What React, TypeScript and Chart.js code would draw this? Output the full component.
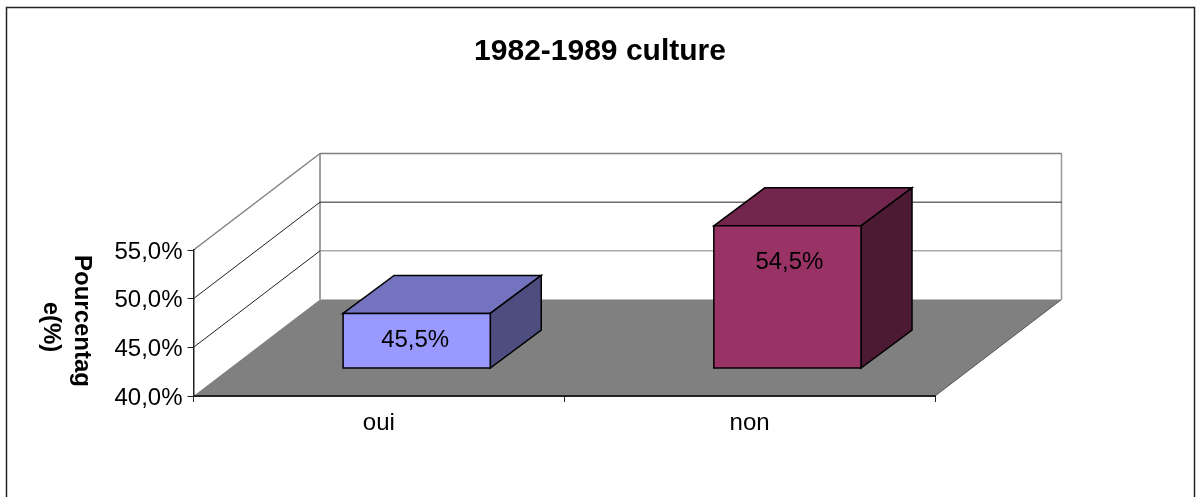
import React, { useEffect, useRef } from "react";
import { Chart, registerables } from "chart.js";

Chart.register(...registerables);

const categories = ["oui", "non"];
const values = [45.5, 54.5];
const valueLabels = ["45,5%", "54,5%"];
const faceColors = ["#9999FF", "#993366"];
const topColors = ["#7373BF", "#73264D"];
const sideColors = ["#4D4D80", "#4D1A33"];
const yTicks = [40, 45, 50, 55];
const titleLines = ["Pourcentag", "e(%)"];
const chartTitle = "1982-1989 culture";

const FONT = "'Liberation Sans', Arial, sans-serif";
const DEPTH = { x: 126.5, y: 96.5 };
const BAR = { fx: 37.8, fy: 28, lift: 1, dx: 51, dy: 38, widthRatio: 0.397 };
const LABEL_OFF = [{ x: -1.5, y: 26.5 }, { x: 2, y: 37 }];
const AXIS_TITLE_SHIFT = [0, 6];
const GRID_COLORS = ["#808080", "#808080", "#222222", "#808080"];
const DIAG_COLORS = ["#222222", "#222222", "#222222", "#808080"];

function poly(ctx: CanvasRenderingContext2D, pts: number[][], fill?: string, stroke?: string, lw = 1) {
  ctx.beginPath();
  pts.forEach((p, i) => (i ? ctx.lineTo(p[0], p[1]) : ctx.moveTo(p[0], p[1])));
  ctx.closePath();
  if (fill) { ctx.fillStyle = fill; ctx.fill(); }
  if (stroke) { ctx.strokeStyle = stroke; ctx.lineWidth = lw; ctx.lineJoin = "miter"; ctx.stroke(); }
}
function line(ctx: CanvasRenderingContext2D, a: number[], b: number[], color: string, lw = 1) {
  ctx.beginPath();
  ctx.moveTo(a[0], a[1]);
  ctx.lineTo(b[0], b[1]);
  ctx.strokeStyle = color;
  ctx.lineWidth = lw;
  ctx.stroke();
}

const scene3d = {
  id: "scene3d",
  beforeDraw(chart: any) {
    const { ctx, scales } = chart;
    const xs = scales.x, ys = scales.y;
    const l = xs.left, r = xs.right, b = ys.getPixelForValue(yTicks[0]), t = ys.getPixelForValue(yTicks[yTicks.length - 1]);
    ctx.save();
    ctx.fillStyle = "#fff";
    ctx.fillRect(0, 0, chart.width, chart.height);
    // outer frame (bottom edge falls below the picture)
    ctx.strokeStyle = "#222";
    ctx.lineWidth = 1.5;
    ctx.strokeRect(6.5, 7.5, 1188, 520);
    // floor
    poly(ctx, [[l, b], [l + DEPTH.x, b - DEPTH.y], [r + DEPTH.x, b - DEPTH.y], [r, b]], "#808080");
    line(ctx, [r, b], [r + DEPTH.x, b - DEPTH.y], "#555");
    // walls
    line(ctx, [l + DEPTH.x, t - DEPTH.y], [l + DEPTH.x, b - DEPTH.y], "#808080", 1.5);
    line(ctx, [r + DEPTH.x, t - DEPTH.y], [r + DEPTH.x, b - DEPTH.y], "#999", 1.5);
    yTicks.forEach((v, i) => {
      const y = ys.getPixelForValue(v);
      if (i > 0) {
        line(ctx, [l, y], [l + DEPTH.x, y - DEPTH.y], DIAG_COLORS[i], i === 3 ? 1.5 : 1);
        line(ctx, [l + DEPTH.x, y - DEPTH.y], [r + DEPTH.x, y - DEPTH.y], GRID_COLORS[i], i === 3 ? 1.5 : 1);
      }
    });
    ctx.restore();
  },
  beforeDatasetsDraw(chart: any) {
    const { ctx, scales } = chart;
    const xs = scales.x, ys = scales.y;
    const catW = (xs.right - xs.left) / categories.length;
    const w = catW * BAR.widthRatio;
    const base = ys.getPixelForValue(yTicks[0]) - BAR.fy;
    ctx.save();
    values.forEach((v, i) => {
      const cx = xs.getPixelForValue(i) + BAR.fx;
      const x0 = cx - w / 2, x1 = cx + w / 2;
      const top = ys.getPixelForValue(v) - BAR.fy - BAR.lift;
      poly(ctx, [[x0, top], [x0 + BAR.dx, top - BAR.dy], [x1 + BAR.dx, top - BAR.dy], [x1, top]], topColors[i], "#000", 1.5);
      poly(ctx, [[x1, top], [x1 + BAR.dx, top - BAR.dy], [x1 + BAR.dx, base - BAR.dy], [x1, base]], sideColors[i], "#000", 1.5);
      poly(ctx, [[x0, top], [x1, top], [x1, base], [x0, base]], faceColors[i], "#000", 1.5);
      ctx.fillStyle = "#000";
      ctx.font = `24px ${FONT}`;
      ctx.textAlign = "center";
      ctx.textBaseline = "middle";
      ctx.fillText(valueLabels[i], cx + LABEL_OFF[i].x, top + LABEL_OFF[i].y);
    });
    ctx.restore();
    return false;
  },
  afterDraw(chart: any) {
    const { ctx } = chart;
    ctx.save();
    ctx.translate(82, 321);
    ctx.rotate(Math.PI / 2);
    ctx.fillStyle = "#000";
    ctx.font = `bold 24px ${FONT}`;
    ctx.textAlign = "center";
    ctx.textBaseline = "middle";
    titleLines.forEach((s, i) => ctx.fillText(s, AXIS_TITLE_SHIFT[i], i * 31));
    ctx.restore();
  },
};

export default function App() {
  const ref = useRef<HTMLCanvasElement>(null);
  useEffect(() => {
    const chart = new Chart(ref.current!, {
      type: "bar",
      data: {
        labels: categories,
        datasets: [{ data: values, backgroundColor: faceColors, borderColor: "#000" }],
      },
      plugins: [scene3d as any],
      options: {
        animation: false,
        responsive: false,
        layout: { padding: { left: 4, right: 0, top: 0, bottom: 0 } },
        plugins: {
          legend: { display: false },
          tooltip: { enabled: false },
          title: {
            display: true,
            text: chartTitle,
            color: "#000",
            font: { family: FONT, size: 30, weight: "bold", lineHeight: 1 },
            padding: { top: 37, bottom: 183 },
          },
        },
        scales: {
          x: {
            grid: { offset: true, drawOnChartArea: false, drawTicks: true, tickLength: 6, color: "#222" },
            border: { color: "#222", width: 2 },
            ticks: { color: "#000", font: { family: FONT, size: 24 }, padding: 7, maxRotation: 0 },
            afterFit: (s: any) => { s.height = 101; },
          },
          y: {
            min: 40,
            max: 55,
            grid: { drawOnChartArea: false, tickLength: 6, color: "#222" },
            border: { color: "#222", width: 1.5 },
            afterBuildTicks: (s: any) => { s.ticks = yTicks.map((value) => ({ value })); },
            ticks: {
              color: "#000",
              font: { family: FONT, size: 24 },
              padding: 5,
              labelOffset: 2,
              callback: (v: any) => `${Number(v).toFixed(1).replace(".", ",")}%`,
            },
            afterFit: (s: any) => { s.width = 189.5; },
          },
          spacer: {
            type: "linear",
            position: "right",
            grid: { display: false },
            border: { display: false },
            ticks: { display: false },
            afterFit: (s: any) => { s.width = 261; },
          },
        },
      },
    });
    return () => chart.destroy();
  }, []);
  return (
    <div style={{ position: "absolute", left: 0, top: 0 }}>
      <canvas ref={ref} width={1196} height={497} style={{ display: "block" }} />
    </div>
  );
}
